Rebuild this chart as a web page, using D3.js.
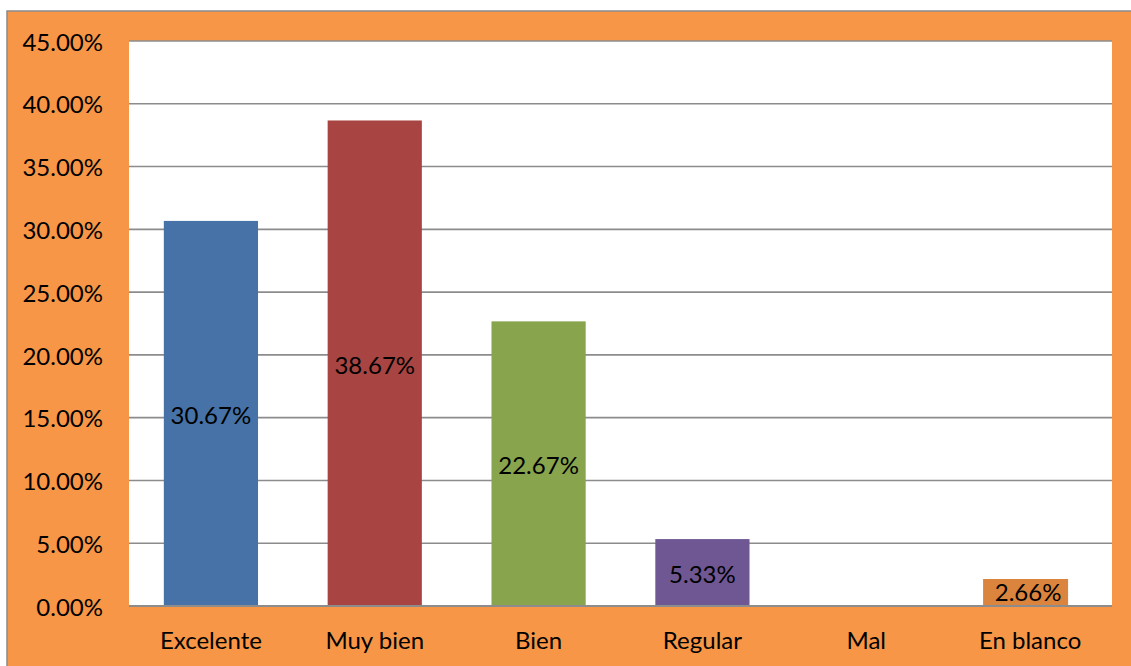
<!DOCTYPE html>
<html><head><meta charset="utf-8">
<script src="https://cdn.jsdelivr.net/npm/d3@7"></script>
<style>html,body{margin:0;padding:0;background:#fff;}svg{display:block;}</style>
</head><body>
<svg id="c" width="1131" height="666"></svg>
<script>
const categories = ["Excelente", "Muy bien", "Bien", "Regular", "Mal", "En blanco"];
const values = [0.3067, 0.3867, 0.2267, 0.0533, 0, 0.0266];
const labels = ["30.67%", "38.67%", "22.67%", "5.33%", "", "2.66%"];
const barColors = ["#4672A7", "#A84542", "#88A44D", "#6F5794", "#DB843D", "#DB843D"];
const yTicks = [0, 0.05, 0.10, 0.15, 0.20, 0.25, 0.30, 0.35, 0.40, 0.45];

const FONT = "Lato, 'Noto Sans', sans-serif";
const FS = 24;
const svg = d3.select("#c");
const plot = {l: 129, r: 1112, t: 41, b: 606};

// outer chart area
svg.append("rect").attr("x", 7).attr("y", 11).attr("width", 1200).attr("height", 700)
  .attr("fill", "#F79646").attr("stroke", "#8A8A8A").attr("stroke-width", 1.5);
svg.append("rect").attr("x", plot.l).attr("y", plot.t).attr("width", plot.r - plot.l).attr("height", plot.b - plot.t)
  .attr("fill", "#ffffff");

const x = d3.scaleBand().domain(categories).range([plot.l, plot.r]).paddingInner(0.425).paddingOuter(0.2125);
const y = d3.scaleLinear().domain([0, 0.45]).range([plot.b, plot.t]);

// gridlines
svg.append("g").selectAll("line").data(yTicks).join("line")
  .attr("x1", plot.l).attr("x2", plot.r)
  .attr("y1", d => y(d)).attr("y2", d => y(d))
  .attr("stroke", "#8C8C8C").attr("stroke-width", 1.6);

// y axis labels
const yAxis = d3.axisLeft(y).tickValues(yTicks).tickSize(0).tickPadding(0)
  .tickFormat(d => (d * 100).toFixed(2) + "%");
const gy = svg.append("g").attr("transform", `translate(103,0)`).call(yAxis);
gy.select(".domain").remove();
gy.selectAll("text").attr("font-family", FONT).attr("font-size", FS).attr("fill", "#000").attr("dy", "0.38em");

// x axis labels
const xAxis = d3.axisBottom(x).tickSize(0).tickPadding(0);
const gx = svg.append("g").attr("transform", `translate(0,${plot.b})`).call(xAxis);
gx.select(".domain").remove();
gx.selectAll("text").attr("font-family", FONT).attr("font-size", FS).attr("fill", "#000").attr("dy", null).attr("y", 43);

// bars
const data = categories.map((c, i) => ({c, v: values[i], lab: labels[i], col: barColors[i], i}));
svg.append("g").selectAll("rect").data(data.filter(d => d.i !== 5)).join("rect")
  .attr("x", d => x(d.c)).attr("width", x.bandwidth())
  .attr("y", d => y(d.v)).attr("height", d => y(0) - y(d.v))
  .attr("fill", d => d.col);

// label background for the small last bar (label with fill)
const last = data[5];
svg.append("rect")
  .attr("x", x(last.c) + x.bandwidth() / 2 - 47).attr("width", 85)
  .attr("y", y(0) - 27).attr("height", 27)
  .attr("fill", last.col);

// axis baseline
svg.append("line").attr("x1", plot.l).attr("x2", plot.r).attr("y1", plot.b).attr("y2", plot.b)
  .attr("stroke", "#8C8C8C").attr("stroke-width", 2);

// data labels
svg.append("g").selectAll("text").data(data.filter(d => d.lab)).join("text")
  .attr("x", d => x(d.c) + x.bandwidth() / 2 + (d.i === 5 ? -2 : 0))
  .attr("y", d => d.i === 5 ? y(0) - 13.5 : (y(d.v) + y(0)) / 2 + 2)
  .attr("dy", "0.36em")
  .attr("text-anchor", "middle")
  .attr("font-family", FONT).attr("font-size", FS).attr("fill", "#000")
  .text(d => d.lab);
</script>
</body></html>
